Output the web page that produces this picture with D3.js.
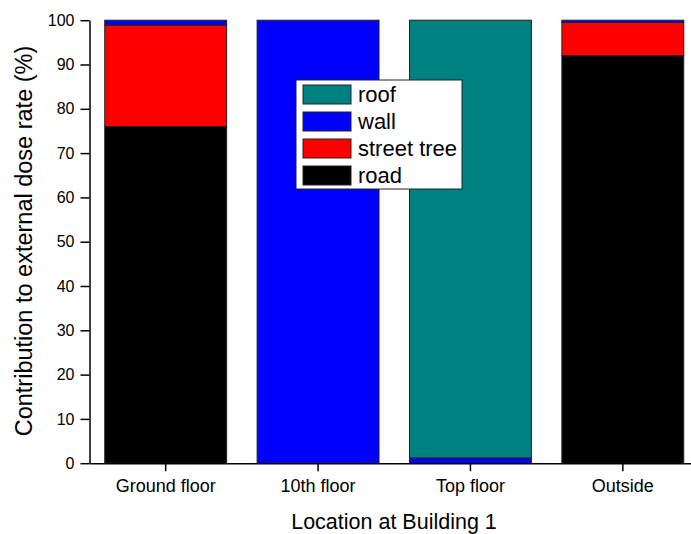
<!DOCTYPE html>
<html>
<head>
<meta charset="utf-8">
<script src="https://cdn.jsdelivr.net/npm/d3@7"></script>
<style>
  html, body { margin: 0; padding: 0; background: #fff; }
  svg { display: block; font-family: "Liberation Sans", Arial, sans-serif; }
</style>
</head>
<body>
<svg id="chart" width="691" height="534"></svg>
<script>
// Locations along the x axis
const locations = ["Ground floor", "10th floor", "Top floor", "Outside"];

// Contribution (%) of each source, per location (stacked bottom to top)
const road       = [76.0, 0.0, 0.0, 92.0];
const streetTree = [22.9, 0.0, 0.0, 7.5];
const wall       = [1.1, 100.0, 1.2, 0.5];
const roof       = [0.0, 0.0, 98.8, 0.0];

const sources = ["road", "street tree", "wall", "roof"];
const sourceValues = { "road": road, "street tree": streetTree, "wall": wall, "roof": roof };
const sourceColors = { "road": "#000000", "street tree": "#ff0000", "wall": "#0000ff", "roof": "#008080" };

const yTicks = [0, 10, 20, 30, 40, 50, 60, 70, 80, 90, 100];

const rows = locations.map((loc, i) => {
  const r = { location: loc };
  sources.forEach(s => { r[s] = sourceValues[s][i]; });
  return r;
});

const svg = d3.select("#chart");
const plotLeft = 89.5, plotRight = 699, plotTop = 20.2, plotBottom = 463.2;

const x = d3.scaleBand().domain(locations).range([plotLeft, plotRight])
  .paddingInner(0.2).paddingOuter(0.1);
const y = d3.scaleLinear().domain([0, 100]).range([plotBottom, plotTop]);

const stacked = d3.stack().keys(sources)(rows);

// Stacked bars
svg.append("g").selectAll("g")
  .data(stacked).join("g")
  .attr("fill", d => sourceColors[d.key])
  .selectAll("rect")
  .data(d => d.filter(p => p[1] - p[0] > 0))
  .join("rect")
  .attr("x", d => x(d.data.location))
  .attr("width", x.bandwidth())
  .attr("y", d => y(d[1]))
  .attr("height", d => y(d[0]) - y(d[1]))
  .attr("stroke", "#222")
  .attr("stroke-width", 1);

// Y axis
const yAxis = svg.append("g")
  .attr("transform", `translate(${plotLeft},0)`)
  .call(d3.axisLeft(y).tickValues(yTicks).tickSize(9).tickPadding(6).tickSizeOuter(0));
yAxis.select(".domain").attr("stroke", "#000").attr("stroke-width", 1.5);
yAxis.selectAll(".tick line").attr("stroke", "#000").attr("stroke-width", 1.5);
yAxis.selectAll(".tick text").attr("font-size", 16).attr("fill", "#000")
  .attr("font-family", "'Liberation Sans', Arial, sans-serif");

// X axis
const xAxis = svg.append("g")
  .attr("transform", `translate(0,${plotBottom})`)
  .call(d3.axisBottom(x).tickSize(8).tickPadding(8).tickSizeOuter(0));
xAxis.select(".domain").attr("stroke", "#000").attr("stroke-width", 1.5);
xAxis.selectAll(".tick line").attr("stroke", "#000").attr("stroke-width", 1.5);
xAxis.selectAll(".tick text").attr("font-size", 18).attr("fill", "#000")
  .attr("font-family", "'Liberation Sans', Arial, sans-serif");

// Axis titles
svg.append("text")
  .attr("x", 394).attr("y", 529)
  .attr("text-anchor", "middle").attr("font-size", 21.5)
  .text("Location at Building 1");

svg.append("text")
  .attr("transform", "translate(31.5,241) rotate(-90)")
  .attr("text-anchor", "middle").attr("font-size", 23.5)
  .text("Contribution to external dose rate (%)");

// Legend (top of stack first)
const legend = svg.append("g").attr("transform", "translate(296,80)");
legend.append("rect")
  .attr("width", 166).attr("height", 109)
  .attr("fill", "#fff").attr("stroke", "#222").attr("stroke-width", 1);
const legendKeys = sources.slice().reverse();
const item = legend.selectAll("g.item").data(legendKeys).join("g")
  .attr("class", "item")
  .attr("transform", (d, i) => `translate(7,${5 + i * 27})`);
item.append("rect")
  .attr("width", 48).attr("height", 19)
  .attr("fill", d => sourceColors[d]).attr("stroke", "#222").attr("stroke-width", 1);
item.append("text")
  .attr("x", 55).attr("y", 17)
  .attr("font-size", 22).text(d => d);
</script>
</body>
</html>
